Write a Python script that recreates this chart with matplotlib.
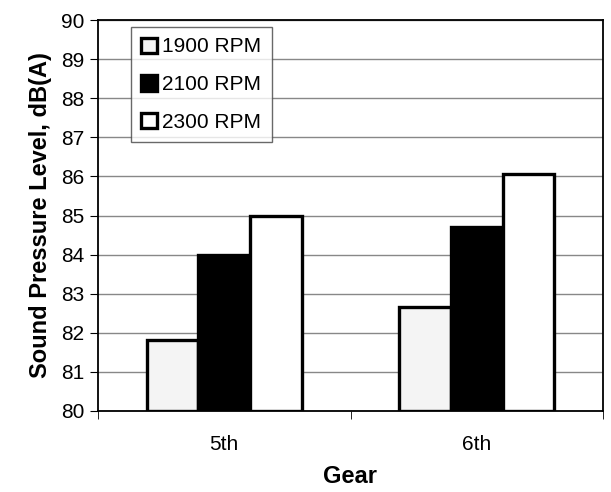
import numpy as np
import matplotlib
matplotlib.use("Agg")
from matplotlib import pyplot as plt

gears = ["5th", "6th"]
rpm_labels = ["1900 RPM", "2100 RPM", "2300 RPM"]
spl_1900 = [81.82, 82.67]
spl_2100 = [84.0, 84.7]
spl_2300 = [85.0, 86.06]

plt.rcParams["font.family"] = ["Liberation Sans", "DejaVu Sans"]

fig = plt.figure(figsize=(6.11, 4.92), dpi=100)
# plot area: x 98..603, y 20..411 px
ax = fig.add_axes([98 / 611, 81 / 492, 505 / 611, 391 / 492])

x = np.arange(len(gears))
w = 0.205
colors = ["#f4f4f4", "black", "white"]
for i, vals in enumerate([spl_1900, spl_2100, spl_2300]):
    ax.bar(x + (i - 1) * w, np.array(vals) - 80, bottom=80, width=w,
           color=colors[i], edgecolor="black", linewidth=2.4,
           label=rpm_labels[i], zorder=3)

ax.set_ylim(80, 90)
ax.set_xlim(-0.5, 1.5)
ax.set_yticks(range(80, 91))
ax.set_xticks(x)
ax.set_xticklabels(gears)
ax.set_xticks([-0.5, 0.5, 1.5], minor=True)
ax.tick_params(axis="x", which="major", length=0, labelsize=15, pad=17)
ax.tick_params(axis="x", which="minor", length=6, direction="out")
ax.tick_params(axis="y", length=6, labelsize=15, direction="out", pad=4)
ax.yaxis.grid(True, color="#888888", linewidth=1, zorder=0)

for s in ax.spines.values():
    s.set_color("black")
    s.set_linewidth(1.3)

ax.set_xlabel("Gear", fontsize=17, fontweight="bold", labelpad=8)
ax.set_ylabel("Sound Pressure Level, dB(A)", fontsize=17, fontweight="bold", labelpad=6)

leg = ax.legend(loc="upper left", bbox_to_anchor=(0.065, 0.982), fontsize=15,
                frameon=True, fancybox=False, edgecolor="#444444",
                handlelength=0.75, handleheight=0.75, handletextpad=0.25,
                labelspacing=0.9, borderpad=0.5, borderaxespad=0)
leg.get_frame().set_linewidth(1)
leg.set_zorder(5)

fig.savefig("out.png", dpi=100)
